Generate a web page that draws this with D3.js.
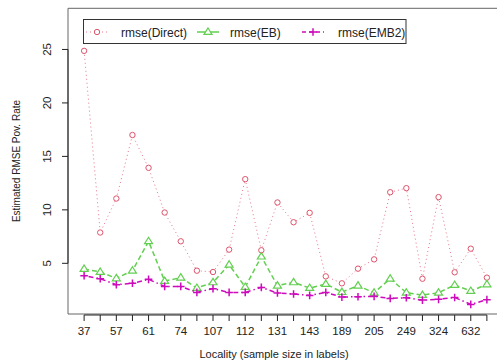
<!DOCTYPE html>
<html>
<head>
<meta charset="utf-8">
<script src="https://cdn.jsdelivr.net/npm/d3@7"></script>
<style>
  body { margin: 0; background: #fff; }
  svg text { font-family: "Liberation Sans", Arial, sans-serif; fill: #222; }
</style>
</head>
<body>
<div id="chart"></div>
<script>
// sample sizes used as tick labels (odd ones are hidden by overlap, as in R)
const localities = ["37", "45", "57", "58", "61", "68", "74", "92", "107", "110", "112", "120", "131",
  "138", "143", "175", "189", "196", "205", "230", "249", "290", "324", "410", "632", "995"];
const rmseDirect = [24.87, 7.88, 11.06, 17.0, 13.93, 9.75, 7.06, 4.31, 4.19, 6.28, 12.87, 6.22, 10.69,
  8.84, 9.72, 3.78, 3.13, 4.5, 5.37, 11.65, 12.03, 3.56, 11.19, 4.16, 6.37, 3.66];
const rmseEB = [4.47, 4.19, 3.59, 4.31, 7.06, 3.34, 3.66, 2.69, 3.22, 4.87, 2.78, 5.63, 2.91,
  3.22, 2.69, 3.06, 2.31, 2.91, 2.25, 3.56, 2.25, 2.03, 2.25, 2.97, 2.41, 3.03];
const rmseEMB2 = [3.84, 3.56, 3.0, 3.13, 3.5, 2.84, 2.84, 2.28, 2.63, 2.28, 2.28, 2.75, 2.22,
  2.13, 2.0, 2.28, 1.84, 1.88, 1.91, 1.72, 1.78, 1.56, 1.63, 1.81, 1.16, 1.6];
const yTicks = [5, 10, 15, 20, 25];

const width = 497, height = 363;
const svg = d3.select("#chart").append("svg")
  .attr("width", width).attr("height", height);

// plot region (right side runs past the window, like the original)
const plotL = 68, plotR = 503, plotT = 8.3, plotB = 314;
const n = localities.length;
const x = d3.scaleLinear().domain([-1, n]).range([plotL, plotR]);
const y = d3.scaleLinear().domain([0.26, 28.85]).range([plotB, plotT]);

// box
svg.append("path")
  .attr("d", `M${plotR},${plotT}H${plotL}V${plotB}H${plotR}`)
  .attr("fill", "none").attr("stroke", "#666").attr("stroke-width", 1);

// y axis
const gy = svg.append("g").attr("transform", `translate(${plotL},0)`);
gy.append("line").attr("y1", y(5)).attr("y2", y(25)).attr("stroke", "#222");
yTicks.forEach(t => {
  gy.append("line").attr("x1", 0).attr("x2", -6).attr("y1", y(t)).attr("y2", y(t)).attr("stroke", "#222");
  gy.append("text").attr("transform", `translate(-17,${y(t)}) rotate(-90)`)
    .attr("text-anchor", "middle").attr("font-size", 11.5).text(t);
});
svg.append("text").attr("transform", `translate(20,161) rotate(-90)`)
  .attr("text-anchor", "middle").attr("font-size", 10).text("Estimated RMSE Pov. Rate");

// x axis
const gx = svg.append("g").attr("transform", `translate(0,${plotB + 1})`);
gx.append("line").attr("x1", x(0)).attr("x2", x(n - 1)).attr("stroke", "#222");
let lastRight = -Infinity;
localities.forEach((lab, i) => {
  gx.append("line").attr("x1", x(i)).attr("x2", x(i)).attr("y1", 0).attr("y2", 6).attr("stroke", "#222");
  const t = gx.append("text").attr("x", x(i)).attr("y", 20)
    .attr("text-anchor", "middle").attr("font-size", 11.5).text(lab);
  const w = t.node().getComputedTextLength();
  // skip labels that would overlap the previous one
  if (x(i) - w / 2 < lastRight + 9) t.remove();
  else lastRight = x(i) + w / 2;
});
svg.append("text").attr("x", 274).attr("y", 358)
  .attr("text-anchor", "middle").attr("font-size", 11).text("Locality (sample size in labels)");

const series = [
  { name: "rmse(Direct)", values: rmseDirect, color: "#DF536B", dash: "1,3", lw: 0.8, shape: "circle" },
  { name: "rmse(EB)", values: rmseEB, color: "#61D04F", dash: "5,3", lw: 1.5, shape: "triangle" },
  { name: "rmse(EMB2)", values: rmseEMB2, color: "#CD0BBC", dash: "1.5,3,5,3", lw: 1.5, shape: "plus" }
];

const line = d3.line().x((d, i) => x(i)).y(d => y(d));

function marker(g, shape, cx, cy, color) {
  if (shape === "circle") {
    g.append("circle").attr("cx", cx).attr("cy", cy).attr("r", 2.7)
      .attr("fill", "#fff").attr("stroke", color).attr("stroke-width", 1);
  } else if (shape === "triangle") {
    const s = 4;
    g.append("path")
      .attr("d", `M${cx},${cy - s}L${cx + s},${cy + s * 0.6}L${cx - s},${cy + s * 0.6}Z`)
      .attr("fill", "#fff").attr("stroke", color).attr("stroke-width", 1.2);
  } else {
    const s = 3.8;
    g.append("path").attr("d", `M${cx - s},${cy}H${cx + s}M${cx},${cy - s}V${cy + s}`)
      .attr("stroke", color).attr("stroke-width", 1.5);
  }
}

series.forEach(s => {
  const g = svg.append("g");
  g.append("path").datum(s.values).attr("d", line)
    .attr("fill", "none").attr("stroke", s.color)
    .attr("stroke-width", s.lw).attr("stroke-dasharray", s.dash);
  s.values.forEach((v, i) => marker(g, s.shape, x(i), y(v), s.color));
});

// legend
const lg = svg.append("g");
lg.append("rect").attr("x", 83.5).attr("y", 19.5).attr("width", 322.5).attr("height", 24)
  .attr("fill", "#fff").attr("stroke", "#333");
const legendX = [{ m: 97, t: 121 }, { m: 208, t: 230 }, { m: 313, t: 338 }];
const legendDash = ["1,3", null, "4,3"];
series.forEach((s, i) => {
  const cy = 32;
  lg.append("line").attr("x1", legendX[i].m - 11).attr("x2", legendX[i].m + 11)
    .attr("y1", cy).attr("y2", cy).attr("stroke", s.color)
    .attr("stroke-width", s.lw).attr("stroke-dasharray", legendDash[i]);
  marker(lg, s.shape, legendX[i].m, cy, s.color);
  lg.append("text").attr("x", legendX[i].t).attr("y", cy + 4.5).attr("font-size", 12).text(s.name);
});
</script>
</body>
</html>
